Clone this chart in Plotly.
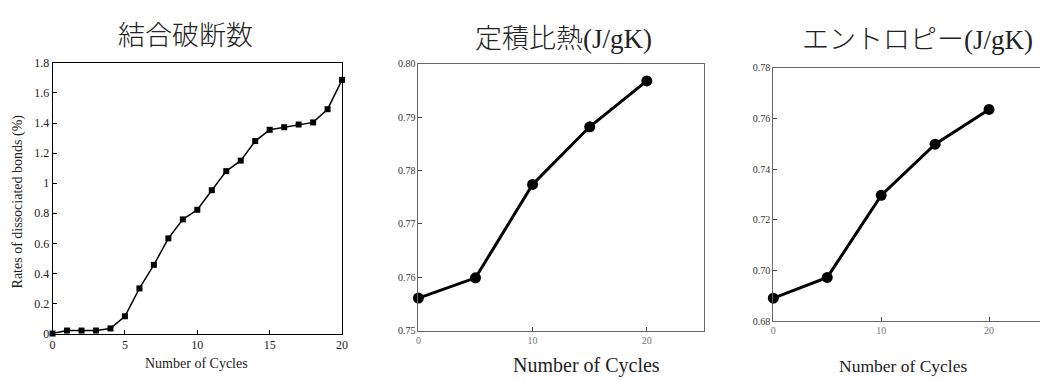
import plotly.graph_objects as go

W, H = 1046, 381

# ---- data ----
cycles_bonds = list(range(0, 21))
bond_rates = [0.0, 0.02, 0.02, 0.02, 0.034, 0.115, 0.30, 0.457, 0.633, 0.759, 0.823,
              0.953, 1.08, 1.15, 1.28, 1.355, 1.372, 1.39, 1.404, 1.492, 1.687]

cycles_thermo = [0, 5, 10, 15, 20]
heat_capacity = [0.7561, 0.7599, 0.7774, 0.7882, 0.7968]
entropy = [0.6890, 0.6972, 0.7296, 0.7498, 0.7635]

titles = ["結合破断数", "定積比熱(J/gK)", "エントロピー(J/gK)"]
x_title = "Number of Cycles"
y_title_bonds = "Rates of dissociated bonds (%)"

SERIF = "Liberation Serif, Times New Roman, serif"
MIXED = "Liberation Serif, Noto Sans CJK JP, serif"


def px_x(p):
    return min(1.0, p / W)


def px_y(p):
    return 1 - p / H


fig = go.Figure()

fig.add_trace(go.Scatter(
    x=cycles_bonds, y=bond_rates, mode="lines+markers",
    line=dict(color="black", width=1.5),
    marker=dict(symbol="square", size=6, color="black"),
    cliponaxis=False, xaxis="x", yaxis="y", showlegend=False))

fig.add_trace(go.Scatter(
    x=cycles_thermo, y=heat_capacity, mode="lines+markers",
    line=dict(color="black", width=3),
    marker=dict(symbol="circle", size=11, color="black"),
    cliponaxis=False, xaxis="x2", yaxis="y2", showlegend=False))

fig.add_trace(go.Scatter(
    x=cycles_thermo, y=entropy, mode="lines+markers",
    line=dict(color="black", width=3),
    marker=dict(symbol="circle", size=11, color="black"),
    cliponaxis=False, xaxis="x3", yaxis="y3", showlegend=False))

common = dict(showgrid=False, zeroline=False, showline=True, ticks="inside",
              ticklen=4, tickwidth=1)

# panel 3 in the reference runs past the right edge (x=25 at ~1049px)
p3_left, p3_right = 777, 1049
x3_max = 25 * (W - p3_left) / (p3_right - p3_left)

fig.update_layout(
    width=W, height=H,
    margin=dict(l=0, r=0, t=0, b=0),
    paper_bgcolor="white", plot_bgcolor="white",
    hovermode=False,
    xaxis=dict(domain=[px_x(50), px_x(342)], range=[0, 20], dtick=5,
               linecolor="black", mirror=True, tickcolor="black",
               tickfont=dict(family=SERIF, size=12, color="#222"),
               anchor="y", **common),
    yaxis=dict(domain=[px_y(339), px_y(58)], range=[0, 1.8], dtick=0.2,
               linecolor="black", mirror=True, tickcolor="black",
               tickfont=dict(family=SERIF, size=12, color="#222"),
               anchor="x", **common),
    xaxis2=dict(domain=[px_x(419), px_x(707)], range=[0, 25], dtick=10,
                linecolor="#666", mirror=True, tickcolor="#444",
                tickfont=dict(family=SERIF, size=10, color="#777"),
                anchor="y2", **common),
    yaxis2=dict(domain=[px_y(336), px_y(59)], range=[0.75, 0.80], dtick=0.01,
                tickformat=".2f", linecolor="#666", mirror=True, tickcolor="#444",
                tickfont=dict(family=SERIF, size=10, color="#333"),
                anchor="x2", **common),
    xaxis3=dict(domain=[px_x(p3_left), 1.0], range=[0, x3_max], tickvals=[0, 10, 20],
                linecolor="#666", mirror=True, tickcolor="#444",
                tickfont=dict(family=SERIF, size=10, color="#777"),
                anchor="y3", **common),
    yaxis3=dict(domain=[px_y(326), px_y(63)], range=[0.68, 0.78], dtick=0.02,
                tickformat=".2f", linecolor="#666", mirror=False, tickcolor="#444",
                tickfont=dict(family=SERIF, size=10, color="#333"),
                anchor="x3", **common),
)

annos = [
    dict(text=titles[0], x=px_x(184), y=px_y(30),
         font=dict(family=MIXED, size=27, color="#222", weight=300)),
    dict(text=titles[1], x=px_x(565), y=px_y(33),
         font=dict(family=MIXED, size=27, color="#222", weight=300)),
    dict(text=titles[2], x=px_x(922), y=px_y(34),
         font=dict(family=MIXED, size=27, color="#222", weight=300)),
    dict(text=x_title, x=px_x(195), y=px_y(370),
         font=dict(family=SERIF, size=14, color="#222")),
    dict(text=x_title, x=px_x(589), y=px_y(372),
         font=dict(family=SERIF, size=20, color="#222")),
    dict(text=x_title, x=px_x(908), y=px_y(373),
         font=dict(family=SERIF, size=17.5, color="#222")),
    dict(text=y_title_bonds, x=px_x(15), y=px_y(202), textangle=-90,
         font=dict(family=SERIF, size=14, color="#222")),
]
for a in annos:
    fig.add_annotation(xref="paper", yref="paper", showarrow=False,
                       xanchor="center", yanchor="middle", **a)

# the page body's default 8px margin would shift the figure; remove it
fig.write_html("out.html", config={"displayModeBar": False},
               post_script="document.body.style.margin='0';")
